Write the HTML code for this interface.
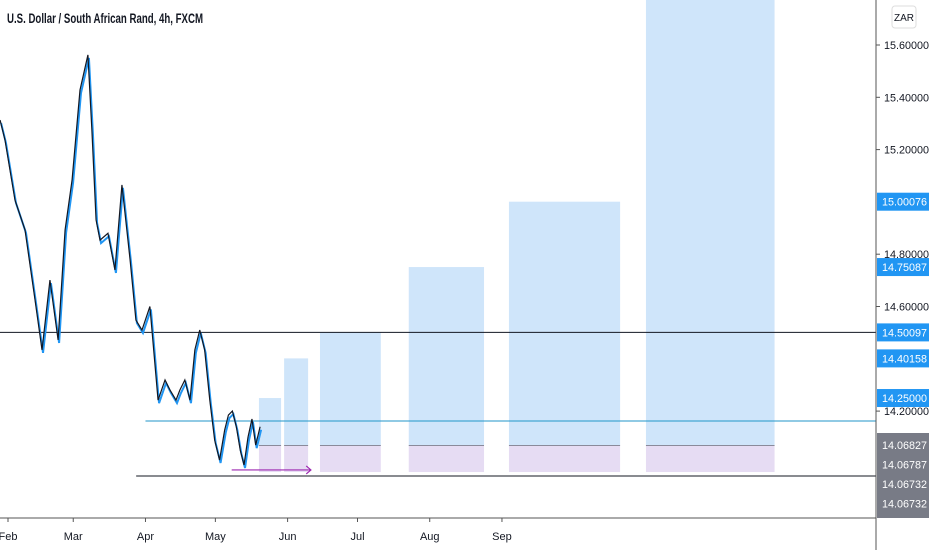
<!DOCTYPE html>
<html><head><meta charset="utf-8"><style>
body{margin:0;background:#fff;font-family:"Liberation Sans",sans-serif}
svg{display:block}
</style></head><body>
<svg id="c" width="932" height="550">
<text x="7" y="23" font-size="13.5" font-weight="bold" fill="#131722" textLength="196" lengthAdjust="spacingAndGlyphs">U.S. Dollar / South African Rand, 4h, FXCM</text>
<rect x="892" y="6" width="24" height="22" rx="3" fill="#fff" stroke="#ddd"/>
<text x="904" y="21" font-size="10" text-anchor="middle" fill="#131722">ZAR</text>
</svg>
<script>
const priceTicks=[15.6,15.4,15.2,14.8,14.6,14.2];
const monthLabels=["Feb","Mar","Apr","May","Jun","Jul","Aug","Sep"];
const monthDays=[0,28,59,89,120,150,181,212];
const priceDays=[-3.4,-1.3,3,7.3,11.6,14.6,18,21.5,24.5,27.5,30.9,34.3,36,37.8,39.5,42.9,45.9,48.9,52.4,54.9,57.5,60.9,64.4,67.4,69.5,72.1,73.8,75.9,78.1,80.2,82.3,84.4,86.6,88.7,90.8,93,94.6,96.3,98,99.7,101.3,103,104.7,106.3,108.2];
const priceValues=[15.313,15.237,15.007,14.893,14.625,14.434,14.701,14.472,14.893,15.084,15.428,15.562,15.275,14.931,14.854,14.88,14.74,15.065,14.778,14.548,14.51,14.6,14.242,14.319,14.281,14.242,14.281,14.319,14.242,14.434,14.51,14.434,14.242,14.089,14.013,14.128,14.185,14.2,14.14,14.05,13.994,14.1,14.17,14.07,14.14];
const boxStart=[107.7,118.5,133.9,172,215,273.8];
const boxEnd=[117.2,128.8,160,204.3,262.7,329];
const boxTop=[14.25,14.40158,14.50097,14.75087,15.00076,15.78];
const entryPrice=14.06827, stopPrice=13.967;
const hLines=[{p:14.50097,d:-4,c:"#131722"},{p:14.162,d:59,c:"#2196c8"},{p:13.952,d:55,c:"#131722"}];
const blueLabels=["15.00076","14.75087","14.50097","14.40158","14.25000"];
const blueLabelPrices=[15.00076,14.75087,14.50097,14.40158,14.25];
const grayLabels=["14.06827","14.06787","14.06732","14.06732"];

const svg=document.getElementById('c');const NS="http://www.w3.org/2000/svg";
const X=d=>8+d*2.33, Y=p=>45+(15.6-p)*261.5, R=876;
function mk(t,a,parent){const e=document.createElementNS(NS,t);for(const k in a)e.setAttribute(k,a[k]);(parent||svg).appendChild(e);return e;}
function lbl(x,y,s,fill){const t=mk('text',{x:x,y:y,"font-size":11,fill:fill,textLength:45,lengthAdjust:"spacingAndGlyphs"});t.textContent=s;return t;}
boxStart.forEach((s,i)=>{
 const top=Math.max(0,Y(boxTop[i]));
 const b=mk('rect',{x:X(s),y:top,width:X(boxEnd[i])-X(s),height:Y(entryPrice)-top,fill:"#cfe5fa"});
 
 
 const p=mk('rect',{x:X(s),y:Y(entryPrice),width:X(boxEnd[i])-X(s),height:Y(stopPrice)-Y(entryPrice),fill:"#e6dcf3"});
 
 
 const l=mk('line',{x1:X(s),x2:X(boxEnd[i]),y1:Y(entryPrice),y2:Y(entryPrice),stroke:"#8a8a9a","stroke-width":1});
 
 
});
hLines.forEach((h,i)=>{const l=mk('line',{x1:Math.max(0,X(h.d)),x2:R,y1:Y(h.p),y2:Y(h.p),stroke:h.c,"stroke-width":1});
 
 });
const ay0=Y(13.975);
const ar=mk('path',{d:`M${X(96)} ${ay0}H${X(130)}M${X(128)} ${ay0-4}L${X(130)} ${ay0}L${X(128)} ${ay0+4}`,stroke:"#9c27b0",fill:"none","stroke-width":1.2});


const pts=priceDays.map((d,i)=>X(d)+","+Y(priceValues[i])).join(" ");
const pb=mk('polyline',{points:priceDays.map((d,i)=>(X(d)+1)+","+(Y(priceValues[i])+3)).join(" "),fill:"none",stroke:"#2196f3","stroke-width":2});


const pl=mk('polyline',{points:pts,fill:"none",stroke:"#131722","stroke-width":1.2});


const ay=mk('line',{x1:R,x2:R,y1:0,y2:550,stroke:"#555"});


const ax=mk('line',{x1:0,x2:R,y1:518,y2:518,stroke:"#555"});


priceTicks.forEach(p=>{const t=lbl(884,Y(p)+4,p.toFixed(5),"#131722");
 
 
 mk('line',{x1:R,x2:R+4,y1:Y(p),y2:Y(p),stroke:"#555"});});
monthDays.forEach((d,i)=>{mk('line',{x1:X(d),x2:X(d),y1:518,y2:522,stroke:"#555"});
 const t=mk('text',{x:X(d),y:540,"font-size":11,"text-anchor":"middle",fill:"#131722"});t.textContent=monthLabels[i];
 
 });
blueLabelPrices.forEach((p,i)=>{const y=Y(p);
 const r=mk('rect',{x:877,y:y-9,width:52,height:18,fill:"#2196f3"});
 
 
 const t=lbl(882,y+4,blueLabels[i],"#fff");
 
 });
const g=mk('rect',{x:877,y:433,width:52,height:85,fill:"#787b86"});


grayLabels.forEach((s,i)=>{const t=lbl(882,449+i*19.5,s,"#fff");
 
 });
</script>
</body></html>
